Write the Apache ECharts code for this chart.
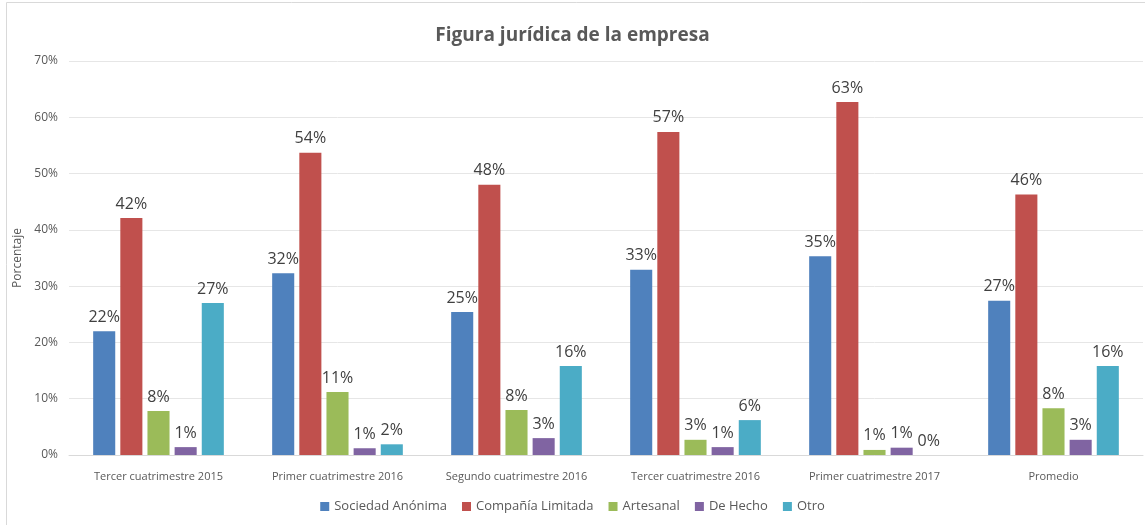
<!DOCTYPE html>
<html>
<head>
<meta charset="utf-8">
<script src="https://cdn.jsdelivr.net/npm/echarts@6/dist/echarts.min.js"></script>
<style>
  body { margin: 0; background: #fff; }
  #chart_view { width: 1145px; height: 525px; }
</style>
</head>
<body>
<div id="chart_view"></div>
<script type="text/javascript">
  var periodos = ['Tercer cuatrimestre 2015', 'Primer cuatrimestre 2016', 'Segundo cuatrimestre 2016',
                  'Tercer cuatrimestre 2016', 'Primer cuatrimestre 2017', 'Promedio'];
  var sociedad_anonima = [22.0, 32.3, 25.4, 32.9, 35.3, 27.4];
  var compania_limitada = [42.1, 53.7, 48.0, 57.4, 62.7, 46.3];
  var artesanal = [7.8, 11.2, 8.0, 2.7, 0.9, 8.3];
  var de_hecho = [1.4, 1.2, 3.0, 1.4, 1.3, 2.7];
  var otro = [27.0, 1.9, 15.8, 6.2, 0.0, 15.8];

  var fuente = '"Open Sans", "Liberation Sans", sans-serif';
  var myChart = echarts.init(document.getElementById('chart_view'));

  function serie(nombre, datos) {
    return {
      name: nombre,
      type: 'bar',
      data: datos,
      barGap: '23%',
      barCategoryGap: '27%',
      label: {
        show: true,
        position: 'top',
        distance: 6,
        color: '#404040',
        fontSize: 16,
        fontFamily: fuente,
        formatter: function (p) { return Math.round(p.value) + '%'; }
      }
    };
  }

  // 指定图表的配置项和数据
  var option = {
    color: ['#4f81bd', '#c0504d', '#9bbb59', '#8064a2', '#4bacc6'],
    title: {
      text: 'Figura jurídica de la empresa',
      left: 'center',
      top: 21,
      textStyle: { color: '#595959', fontSize: 19, fontWeight: 'bold', fontFamily: fuente }
    },
    legend: {
      bottom: 7,
      left: 'center',
      itemWidth: 9,
      itemHeight: 9,
      itemGap: 15,
      icon: 'rect',
      textStyle: { color: '#595959', fontSize: 13, fontFamily: fuente }
    },
    grid: { left: 69, right: 2, top: 61, bottom: 70 },
    graphic: [{
      type: 'rect',
      shape: { x: 6.5, y: 2.5, width: 1145, height: 530 },
      style: { fill: 'none', stroke: '#d9d9d9', lineWidth: 1 },
      silent: true
    }],
    xAxis: {
      type: 'category',
      data: periodos,
      axisTick: { show: false },
      axisLine: { lineStyle: { color: '#d9d9d9' } },
      axisLabel: { color: '#595959', fontSize: 11, fontFamily: fuente, margin: 16, interval: 0 }
    },
    yAxis: {
      type: 'value',
      min: 0,
      max: 70,
      interval: 10,
      name: 'Porcentaje',
      nameLocation: 'middle',
      nameGap: 40,
      nameRotate: 90,
      nameTextStyle: { color: '#595959', fontSize: 12, fontFamily: fuente },
      axisLabel: { color: '#595959', fontSize: 12, fontFamily: fuente, formatter: '{value}%', margin: 11 },
      splitLine: { lineStyle: { color: '#e6e6e6' } }
    },
    series: [
      serie('Sociedad Anónima', sociedad_anonima),
      serie('Compañía Limitada', compania_limitada),
      serie('Artesanal', artesanal),
      serie('De Hecho', de_hecho),
      serie('Otro', otro)
    ]
  };
  myChart.setOption(option);
</script>
</body>
</html>
